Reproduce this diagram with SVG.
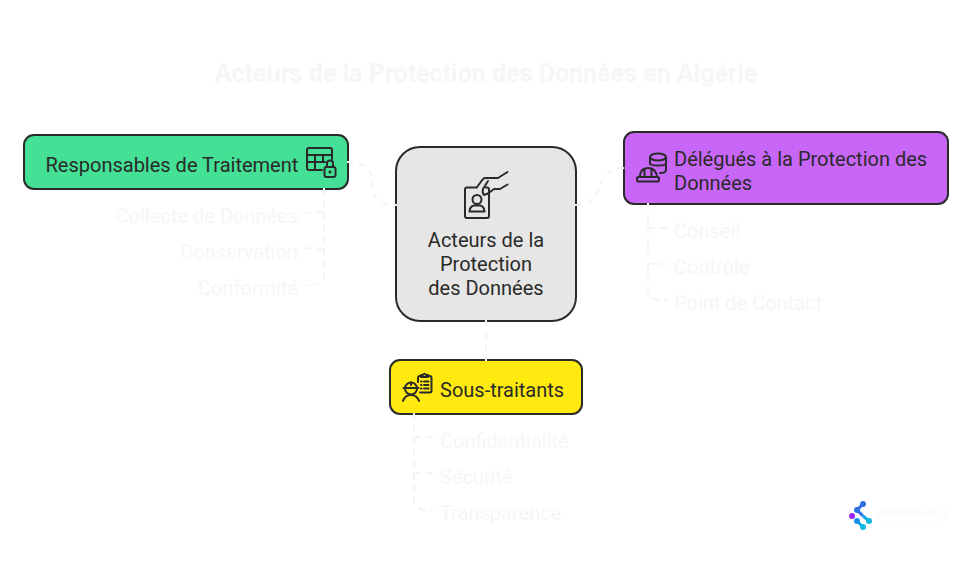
<svg xmlns="http://www.w3.org/2000/svg" width="972" height="570" viewBox="0 0 972 570">
<style>
text{font-family:Roboto,"Liberation Sans",sans-serif;font-size:20px;fill:#2a2a2a}
.f{fill:#f6f6f6}
.e{text-anchor:end}
.m{text-anchor:middle}
.n{stroke:#2a2a2a;stroke-width:2}
.i{fill:none;stroke:#2a2a2a;stroke-width:2;stroke-linecap:round;stroke-linejoin:round}
.c{fill:none;stroke:#f4f4f4;stroke-width:2;stroke-dasharray:7 5}
.l{fill:none;stroke-width:3}
</style>
<rect width="972" height="570" fill="#fff"/>
<text x="486" y="82" class="m f" style="font-size:25px;font-weight:700">Acteurs de la Protection des Données en Algérie</text>
<g id="node-responsables">
<rect class="n" x="24" y="135" width="324" height="54" rx="10" fill="#44e095"/>
<text x="45.500" y="172">Responsables de Traitement</text>
<path class="i" d="M322 170H309Q307 170 307 168V150Q307 148 309 148H330Q332 148 332 150V159M307 155H332M307 162H325M315 155V170M323 155V162"/>
<rect class="i" x="324.500" y="167" width="11" height="10" rx="2"/>
<path class="i" d="M327 167V163Q327 160.500 330 160.500Q333 160.500 333 163V167"/>
<circle cx="330" cy="172" r="1.500" fill="#2a2a2a"/>
</g>
<g id="node-center">
<rect class="n" x="396" y="147" width="180" height="174" rx="24" fill="#e6e6e6"/>
<path class="i" d="M477 187.500H467Q465 187.500 465 189.500V216Q465 218 467 218H487Q489 218 489 216V189.500Q489 187.500 487 187.500H486"/>
<circle class="i" cx="477" cy="199.500" r="4.500"/>
<path class="i" d="M469.500 211.500Q470 206 474 205.500H480Q484 206 484.500 211.500Z"/>
<path class="i" d="M477 187L483 179Q484 178 486 178H498L507.500 172M488 181L483 189Q482 193 484 195Q488 194 490 192L494 189H500L507.500 184.500"/>
<text x="486" y="247" class="m">Acteurs de la</text>
<text x="486" y="271" class="m">Protection</text>
<text x="486" y="295" class="m">des Données</text>
</g>
<g id="node-delegues">
<rect class="n" x="624" y="132" width="324" height="72" rx="10" fill="#c866f8"/>
<ellipse class="i" cx="658" cy="157" rx="8" ry="3.500"/>
<path class="i" d="M650 157V164M666 157V170C666 172 663 173 660 173M650 163.500C651 166 665 166.500 666 163.500"/>
<path class="i" d="M640 177Q640 168 648 168Q656 168 657 177M644.500 169.500V177M651.500 169.500V177"/>
<rect class="i" x="637" y="177" width="22" height="4.500" rx="1.500"/>
<text x="674" y="166">Délégués à la Protection des</text>
<text x="674" y="190">Données</text>
</g>
<g id="node-sous">
<rect class="n" x="390" y="360" width="192" height="54" rx="10" fill="#ffe90f"/>
<circle class="i" cx="411" cy="388.500" r="6"/>
<path class="i" d="M403.500 388H418.500M411 382.500V385M403 401Q405 395 411 395Q417 395 419 401"/>
<path class="i" d="M418 382V378Q418 376 420 376H421M428 376H429.500Q431.500 376 431.500 378V391Q431.500 392.500 429.500 392.500H420M421 376V375H423Q424.500 372.500 426 375H428V377H421Z"/>
<path class="i" stroke-width="1.500" d="M421 381.500H421.500M424 381.500H428.500M421 385H421.500M424 385H428.500M421 388.500H421.500M424 388.500H428.500"/>
<text x="440" y="397">Sous-traitants</text>
</g>
<g id="connectors">
<path class="c" d="M347 162C366 162 372 170 372 184C372 198 378 205 397 205"/>
<path class="c" d="M575 205C590 205 596 198 600 186C604 174 610 168 625 168"/>
<path class="c" d="M486 320V361"/>
<path class="c" d="M324 188V274Q324 283 315 285L305 285.500"/>
<path class="c" d="M305 248.500H324M305 212.500H324"/>
<path class="c" d="M648 203V289Q648 297 657 300L667 300"/>
<path class="c" d="M667 228H648M667 264H648"/>
<path class="c" d="M414 413V499Q414 507 423 510L433 510"/>
<path class="c" d="M433 437H414M433 473H414"/>
</g>
<g id="items-responsables">
<text x="298" y="223" class="e f">Collecte de Données</text>
<text x="298" y="259" class="e f">Conservation</text>
<text x="298" y="295" class="e f">Conformité</text>
</g>
<g id="items-delegues">
<text x="674" y="238" class="f">Conseil</text>
<text x="674" y="274" class="f">Contrôle</text>
<text x="674" y="310" class="f">Point de Contact</text>
</g>
<g id="items-sous">
<text x="440" y="448" class="f">Confidentialité</text>
<text x="440" y="484" class="f">Sécurité</text>
<text x="440" y="520" class="f">Transparence</text>
</g>
<g id="logo">
<path class="l" stroke="#2f6fe8" d="M863 504L857 510L863 516"/>
<path class="l" stroke="#12a8e0" d="M857 521L863 527M863 516L869 521"/>
<circle cx="852" cy="516" r="3" fill="#a020f0"/>
<circle cx="863" cy="504" r="3" fill="#2f6fe8"/>
<circle cx="857" cy="510" r="3" fill="#2f6fe8"/>
<circle cx="857" cy="521" r="3" fill="#1a8fe8"/>
<circle cx="863" cy="527" r="3" fill="#12b8e0"/>
<circle cx="869" cy="521" r="3" fill="#12b8e0"/>
<text x="877" y="516.500" textLength="71" lengthAdjust="spacingAndGlyphs" style="font-size:9px;fill:#f8f8f8">AYVERTIS MILLE</text>
<text x="883" y="524.500" textLength="56" style="font-size:5px;fill:#f8f8f8">TECHNOLOGIES</text>
</g>
</svg>
